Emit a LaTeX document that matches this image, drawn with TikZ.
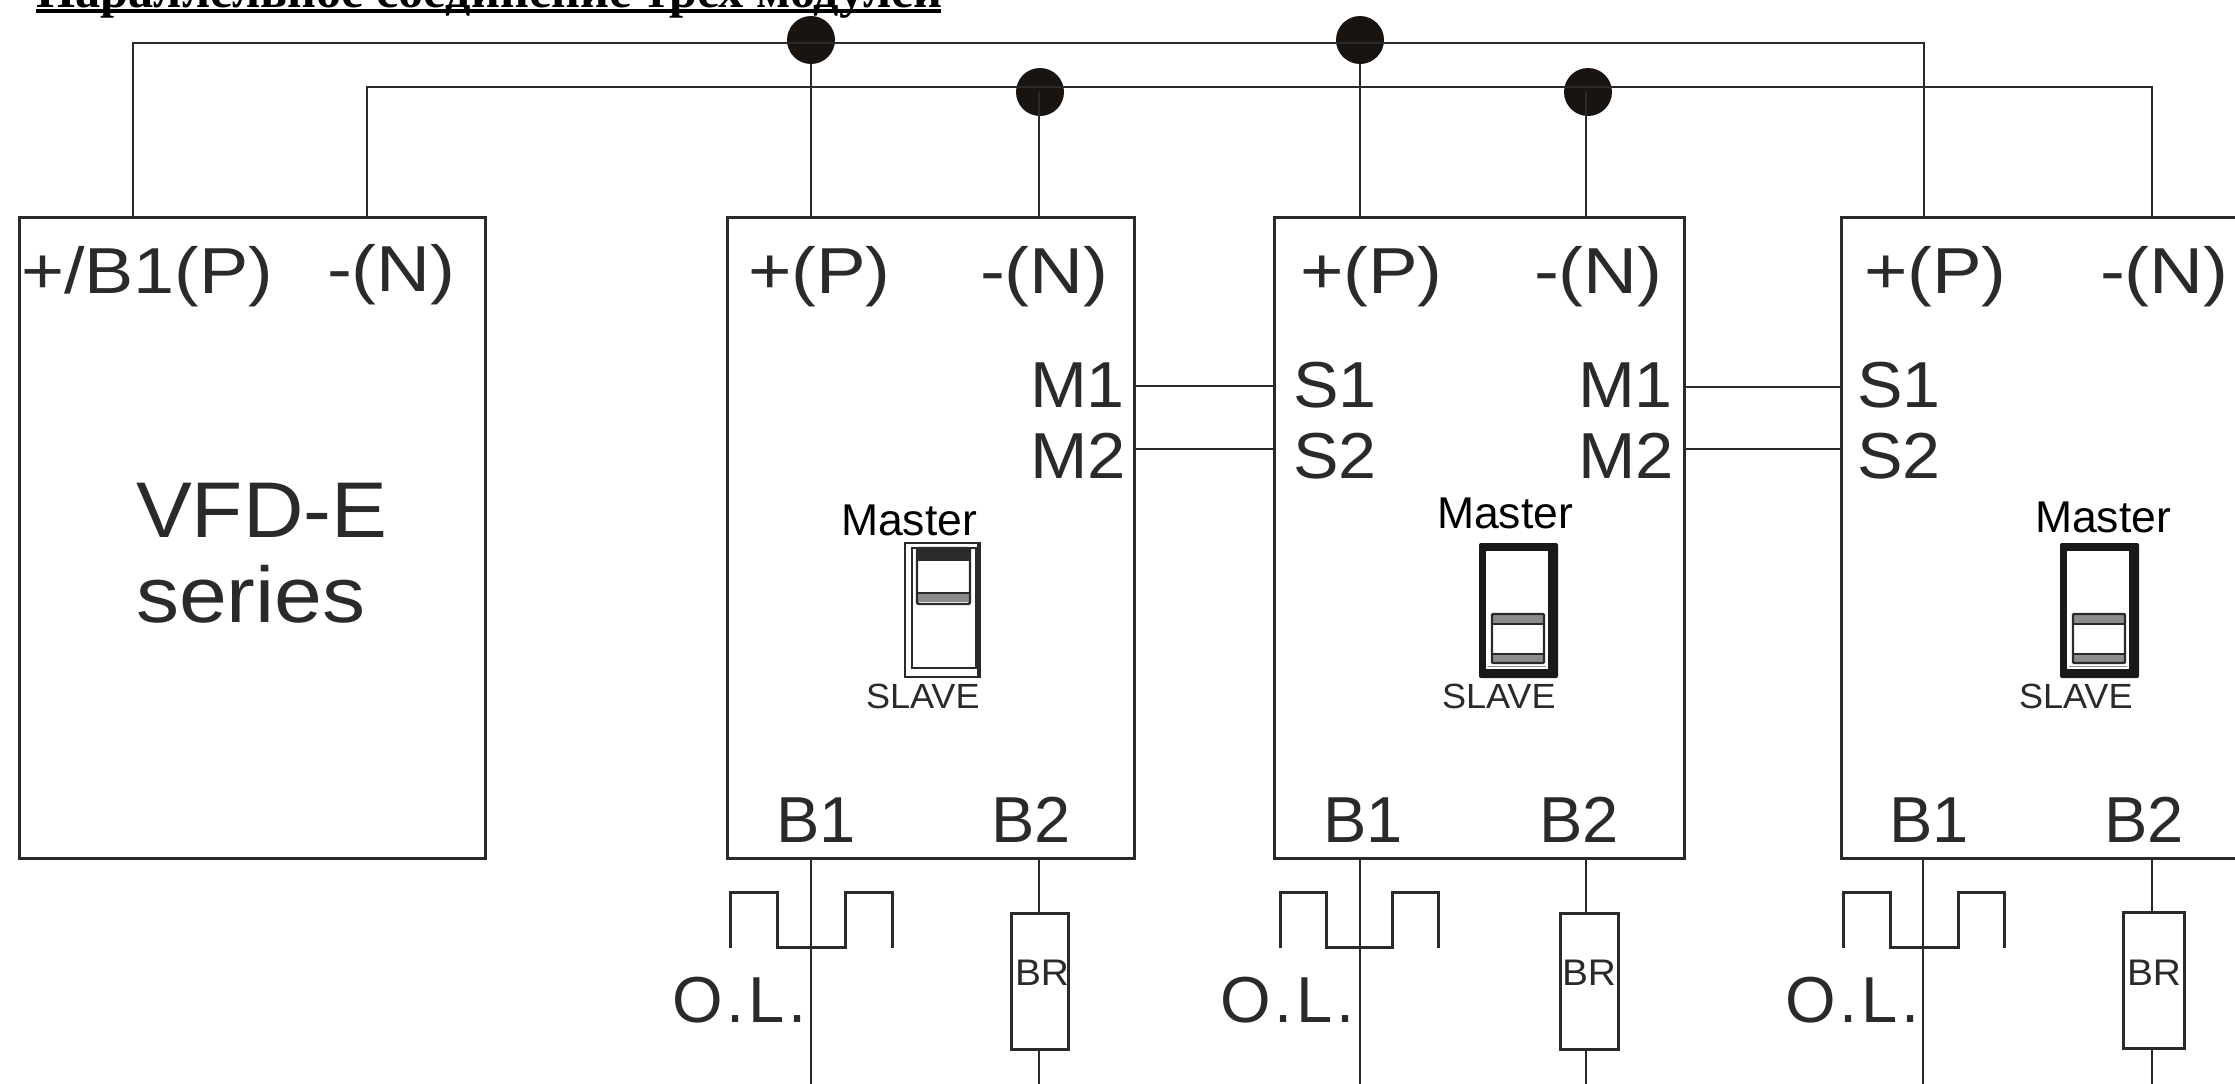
\documentclass[tikz,border=0pt]{standalone}
\usepackage{graphicx}
\usepackage{fontspec}
\setmainfont{Liberation Sans}
\newfontfamily\titlefont{Liberation Serif}
\definecolor{ink}{HTML}{2A2A2A}
\definecolor{dotink}{HTML}{1A1410}
\definecolor{band}{HTML}{8C8C8C}
\newcommand{\lbl}[6]{\node[txt] (#1) at (#2,#3) {\fontsize{#5pt}{#5pt}\selectfont\scalebox{#4}[1]{#6}};}
\newcommand{\swup}[2]{%
  \begin{scope}[shift={(#1,#2)}]
    \draw[thinsw] (0,0) rectangle (75,134);
    \draw[thinsw] (7,5) -- (7,125) -- (71,125) -- (71,5) -- cycle;
    \draw[line width=3pt,ink] (73,0) -- (73,134);
    \fill[ink,rounded corners=1pt] (12,6) rectangle (65,17);
    \fill[band] (13,50) rectangle (64,59);
    \draw[thinsw,rounded corners=2pt] (12,5) rectangle (65,61);
    \draw[thinsw] (12,17) -- (65,17);
    \draw[thinsw] (12,50) -- (65,50);
  \end{scope}}
\newcommand{\swdown}[2]{%
  \begin{scope}[shift={(#1,#2)}]
    \fill[black!90,rounded corners=2pt] (0,0) rectangle (79,135);
    \fill[white] (7,8) rectangle (69,126);
    \draw[band,line width=1pt] (9,123) -- (67,123);
    \fill[band] (13,71) rectangle (65,80);
    \fill[band] (13,111) rectangle (65,119);
    \draw[thinsw,rounded corners=1pt] (13,71) rectangle (65,120);
    \draw[thinsw] (13,81) -- (65,81);
    \draw[thinsw] (13,111) -- (65,111);
  \end{scope}}
\tikzset{
  wire/.style={draw=ink,line width=2.8pt},
  modbox/.style={draw=ink,line width=3pt,rectangle,inner sep=0pt,minimum height=641pt},
  brbox/.style={draw=ink,line width=3pt,rectangle,inner sep=0pt,minimum height=136pt},
  junction/.style={circle,fill=dotink,inner sep=0pt,minimum size=48pt},
  txt/.style={anchor=base west,inner sep=0pt,outer sep=0pt,text=ink},
  thinsw/.style={draw=ink,line width=2.4pt},
  olwave/.style={draw=ink,line width=3pt}
}
\newcommand{\oltext}{O\kern4pt.\kern4pt L\kern4pt.}
\newcommand{\mastertext}{\textcolor{black}{Master}}
\begin{document}
\begin{tikzpicture}[x=1pt,y=-1pt]
\useasboundingbox (0,0) rectangle (2235,1084);
\fill[white] (0,0) rectangle (2235,1084);

% title
\node[txt,text=black] (title) at (36,7) {\fontsize{50.3pt}{50.3pt}\titlefont\bfseries\selectfont Параллельное соединение трех модулей};
\fill[black] (36,9) rectangle (941,13);

% boxes
\node[modbox,minimum width=466pt] (vfd) at (252.5,537.5) {};
\node[modbox,minimum width=407pt] (m1) at (931,537.5) {};
\node[modbox,minimum width=410pt] (m2) at (1479,537.5) {};
\node[modbox,minimum width=430pt] (m3) at (2056,537.5) {};

% junctions
\node[junction] (jp1) at (811,40) {};
\node[junction] (jn1) at (1040,92) {};
\node[junction] (jp2) at (1360,40) {};
\node[junction] (jn2) at (1588,92) {};

% free corners of the buses
\coordinate (cp0) at (133,43);
\coordinate (cn0) at (367,87);
\coordinate (cp3) at (1924,43);
\coordinate (cn3) at (2152,87);

% buses
\draw[wire] (cp0 |- vfd.north) -- (cp0) -- (cp3) -- (cp3 |- m3.north);
\draw[wire] (cn0 |- vfd.north) -- (cn0) -- (cn3) -- (cn3 |- m3.north);
\draw[wire] (jp1) -- (jp1 |- m1.north);
\draw[wire] (1039,92) -- (1039,217);
\draw[wire] (jp2) -- (jp2 |- m2.north);
\draw[wire] (1586,92) -- (1586,217);

% M/S links
\coordinate (l1a) at (1135,386);
\coordinate (l1b) at (1135,449);
\coordinate (l2a) at (1684,387);
\coordinate (l2b) at (1684,449);
\draw[wire] (l1a) -- (l1a -| m2.west);
\draw[wire] (l1b) -- (l1b -| m2.west);
\draw[wire] (l2a) -- (l2a -| m3.west);
\draw[wire] (l2b) -- (l2b -| m3.west);

% brake resistors
\node[brbox,minimum width=57pt] (br1) at (1039.5,981) {};
\node[brbox,minimum width=58pt] (br2) at (1589,981) {};
\node[brbox,minimum width=61pt] (br3) at (2153.5,980) {};

% B2 leads
\coordinate (b2a) at (1039,1084);
\coordinate (b2b) at (1586,1084);
\coordinate (b2c) at (2152,1084);
\draw[wire] (b2a |- m1.south) -- (b2a |- br1.north);
\draw[wire] (b2a |- br1.south) -- (b2a);
\draw[wire] (b2b |- m2.south) -- (b2b |- br2.north);
\draw[wire] (b2b |- br2.south) -- (b2b);
\draw[wire] (b2c |- m3.south) -- (b2c |- br3.north);
\draw[wire] (b2c |- br3.south) -- (b2c);

% B1 leads
\coordinate (b1a) at (811,1084);
\coordinate (b1b) at (1360,1084);
\coordinate (b1c) at (1923,1084);
\draw[wire] (b1a |- m1.south) -- (b1a);
\draw[wire] (b1b |- m2.south) -- (b1b);
\draw[wire] (b1c |- m3.south) -- (b1c);

% overload symbols
\draw[olwave] (730,948) -- (730,892) -- (777,892) -- (777,947) -- (845,947) -- (845,892) -- (892,892) -- (892,948);
\draw[olwave] (1280,948) -- (1280,892) -- (1326,892) -- (1326,947) -- (1392,947) -- (1392,892) -- (1438,892) -- (1438,948);
\draw[olwave] (1843,948) -- (1843,892) -- (1890,892) -- (1890,947) -- (1958,947) -- (1958,892) -- (2004,892) -- (2004,948);

% switches
\swup{905}{543}
\swdown{1479}{543}
\swdown{2060}{543}

% VFD labels
\lbl{vp}{21}{293}{1.135}{65}{+/B1(P)}
\lbl{vn}{327}{291}{1.15}{65}{-(N)}
\lbl{v1}{136}{537}{1.06}{79}{VFD-E}
\lbl{v2}{136}{622}{1.09}{79}{series}

% module 1 labels
\lbl{ap}{748}{293}{1.145}{65}{+(P)}
\lbl{an}{980}{293}{1.15}{65}{-(N)}
\lbl{am1}{1030}{407}{1.05}{65}{M1}
\lbl{am2}{1030}{478}{1.06}{65}{M2}
\lbl{amas}{841}{535}{1}{44.5}{\mastertext}
\lbl{asl}{866}{708}{1.03}{35}{SLAVE}
\lbl{ab1}{776}{842}{1}{65}{B1}
\lbl{ab2}{991}{842}{1}{65}{B2}
\lbl{aol}{672}{1022}{1}{65}{\oltext}
\lbl{abr}{1015}{985}{1.05}{37}{BR}

% module 2 labels
\lbl{bp}{1300}{293}{1.145}{65}{+(P)}
\lbl{bn}{1534}{293}{1.15}{65}{-(N)}
\lbl{bs1}{1293}{407}{1.05}{65}{S1}
\lbl{bs2}{1293}{478}{1.05}{65}{S2}
\lbl{bm1}{1578}{407}{1.05}{65}{M1}
\lbl{bm2}{1578}{478}{1.06}{65}{M2}
\lbl{bmas}{1437}{528}{1}{44.5}{\mastertext}
\lbl{bsl}{1442}{708}{1.03}{35}{SLAVE}
\lbl{bb1}{1323}{842}{1}{65}{B1}
\lbl{bb2}{1539}{842}{1}{65}{B2}
\lbl{bol}{1220}{1022}{1}{65}{\oltext}
\lbl{bbr}{1562}{985}{1.05}{37}{BR}

% module 3 labels
\lbl{cp}{1864}{293}{1.145}{65}{+(P)}
\lbl{cn}{2100}{293}{1.15}{65}{-(N)}
\lbl{cs1}{1857}{407}{1.05}{65}{S1}
\lbl{cs2}{1857}{478}{1.05}{65}{S2}
\lbl{cmas}{2035}{532}{1}{44.5}{\mastertext}
\lbl{csl}{2019}{708}{1.03}{35}{SLAVE}
\lbl{cb1}{1889}{842}{1}{65}{B1}
\lbl{cb2}{2104}{842}{1}{65}{B2}
\lbl{col}{1785}{1022}{1}{65}{\oltext}
\lbl{cbr}{2127}{985}{1.05}{37}{BR}
\end{tikzpicture}
\end{document}
